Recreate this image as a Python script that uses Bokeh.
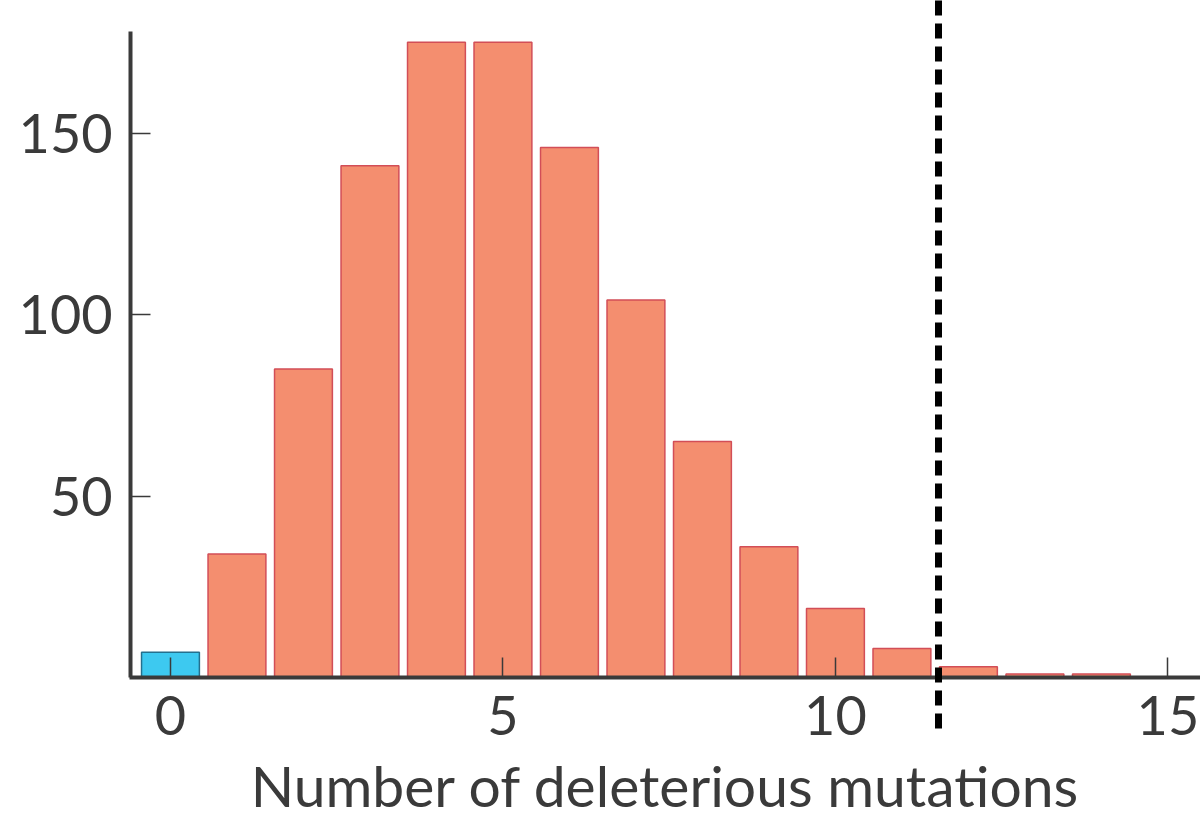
from bokeh.plotting import figure
from bokeh.models import Range1d, FixedTicker, LinearAxis, ColumnDataSource
from bokeh.core.properties import value
from bokeh.embed import file_html
from bokeh.resources import INLINE

# ---- data ----
mutations = list(range(15))
counts = [7, 34, 85, 141, 175, 175, 146, 104, 65, 36, 19, 8, 3, 1, 1]
threshold = 11.55
x_ticks = [0, 5, 10, 15]
y_ticks = [50, 100, 150]
x_label = "Number of deleterious mutations"

# ---- style ----
FONT = "Lato"
AXIS_COLOR = "#3a3a3a"
SALMON = "#F48E6F"
SALMON_EDGE = "#D24E57"
BLUE = "#3DC9F0"
BLUE_EDGE = "#23708E"

fill_colors = [BLUE] + [SALMON] * (len(counts) - 1)
line_colors = [BLUE_EDGE] + [SALMON_EDGE] * (len(counts) - 1)

src = ColumnDataSource(dict(x=mutations, top=counts, fill=fill_colors, line=line_colors))

X_MIN, X_MAX = -2.556, 15.49
Y_MIN, Y_MAX = -39.1, 186.5
DASH_BOTTOM = -15.4   # where the dashed threshold line ends (below the axis)
TITLE_Y = -29.6       # baseline of the x-axis title (below the axis)

p = figure(width=1200, height=819, output_backend="svg", toolbar_location=None,
           x_range=Range1d(X_MIN, X_MAX), y_range=Range1d(Y_MIN, Y_MAX),
           x_axis_type=None, y_axis_type=None, min_border=0)
p.outline_line_color = None
p.background_fill_color = "white"
p.border_fill_color = "white"

p.vbar(x="x", top="top", bottom=0, width=0.87, source=src,
       fill_color="fill", line_color="line", line_width=1.5)

# axes
xaxis = LinearAxis(fixed_location=0, ticker=FixedTicker(ticks=x_ticks),
                   bounds=(-0.62, X_MAX))
yaxis = LinearAxis(fixed_location=-0.6, ticker=FixedTicker(ticks=y_ticks),
                   bounds=(0, 178))
for ax in (xaxis, yaxis):
    ax.axis_line_color = AXIS_COLOR
    ax.axis_line_width = 4
    ax.major_tick_line_color = AXIS_COLOR
    ax.major_tick_line_width = 1.5
    ax.major_tick_in = 20
    ax.major_tick_out = 0
    ax.minor_tick_line_color = None
    ax.major_label_text_font = FONT
    ax.major_label_text_font_size = "54px"
    ax.major_label_text_color = "#3a3a3a"
    ax.major_label_standoff = 18
p.add_layout(xaxis, "below")
p.add_layout(yaxis, "left")

# x-axis title, centred under the axis
p.text(x=[(-0.6 + X_MAX) / 2], y=[TITLE_Y], text=[x_label],
       text_font=value(FONT), text_font_size="57px", text_color="#3a3a3a",
       text_align="center", text_baseline="alphabetic")

# dashed threshold line
p.segment(x0=[threshold], x1=[threshold], y0=[Y_MAX], y1=[DASH_BOTTOM],
          line_color="black", line_width=7, line_dash="15 8", level="annotation")

open("out.html", "w").write(file_html(p, INLINE))
